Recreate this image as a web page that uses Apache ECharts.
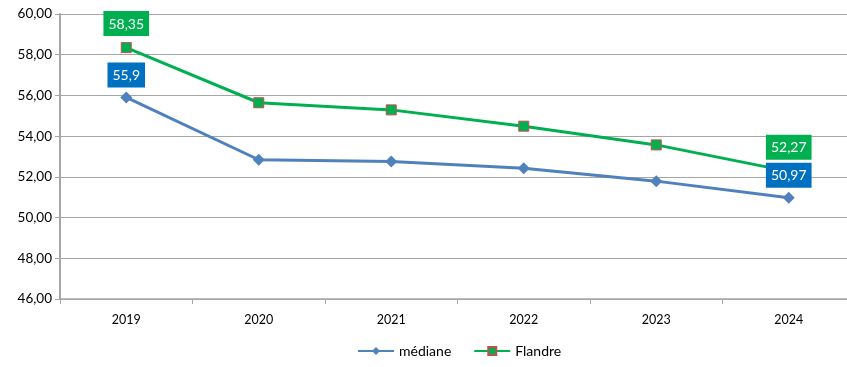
<!DOCTYPE html>
<html>
<head>
<meta charset="utf-8">
<script src="https://cdn.jsdelivr.net/npm/echarts@6/dist/echarts.min.js"></script>
<style>
  html, body { margin: 0; padding: 0; background: #fff; }
  #chart { width: 847px; height: 367px; }
</style>
</head>
<body>
<div id="chart"></div>
<script>
// données
var annees = ['2019', '2020', '2021', '2022', '2023', '2024'];
var mediane = [55.9, 52.84, 52.76, 52.42, 51.79, 50.97];
var flandre = [58.35, 55.64, 55.29, 54.49, 53.57, 52.27];

var chart = echarts.init(document.getElementById('chart'));

// étiquette seulement sur le premier et le dernier point
function points(valeurs, couleur, ecart) {
	return valeurs.map(function (v, i) {
		var visible = (i === 0 || i === valeurs.length - 1);
		return {
			value: v,
			label: {
				show: visible,
				position: 'top',
				distance: ecart,
				color: '#fff',
				fontSize: 14,
				fontFamily: 'Lato',
				backgroundColor: couleur,
				padding: [6, 5, 5, 5],
				formatter: function (p) { return String(p.value).replace('.', ','); }
			}
		};
	});
}

var option = {
	animation: false,
	textStyle: { fontFamily: 'Lato' },
	grid: { left: 60, top: 14, width: 795, height: 285, containLabel: false, outerBoundsMode: 'none' },
	legend: {
		bottom: 4,
		left: 352,
		itemWidth: 36,
		itemHeight: 10,
		itemGap: 22,
		textStyle: { fontSize: 14, color: '#000' },
		data: ['médiane', 'Flandre']
	},
	xAxis: {
		type: 'category',
		data: annees,
		boundaryGap: true,
		axisLine: { lineStyle: { color: '#a6a6a6', width: 1.5 } },
		axisTick: { show: true, length: 5, lineStyle: { color: '#a6a6a6' } },
		axisLabel: { color: '#000', fontSize: 12.5, margin: 14 }
	},
	yAxis: {
		type: 'value',
		min: 46,
		max: 60,
		interval: 2,
		axisLine: { show: true, lineStyle: { color: '#a6a6a6', width: 2 } },
		axisTick: { show: true, length: 5, lineStyle: { color: '#a6a6a6' } },
		axisLabel: {
			color: '#000',
			fontSize: 13.5,
			margin: 8,
			formatter: function (v) { return v.toFixed(2).replace('.', ','); }
		},
		splitLine: { lineStyle: { color: '#a6a6a6', width: 1 } }
	},
	series: [
		{
			name: 'médiane',
			type: 'line',
			data: points(mediane, '#0070c0', 4),
			symbol: 'diamond',
			symbolSize: 12,
			lineStyle: { color: '#4f81bd', width: 3 },
			itemStyle: { color: '#4f81bd' },
			z: 3
		},
		{
			name: 'Flandre',
			type: 'line',
			data: points(flandre, '#00b050', 6),
			symbol: 'rect',
			symbolSize: 10,
			lineStyle: { color: '#00b050', width: 3 },
			itemStyle: { color: '#00b050', borderColor: '#c0504d', borderWidth: 1 },
			z: 2
		}
	]
};

chart.setOption(option);
</script>
</body>
</html>
